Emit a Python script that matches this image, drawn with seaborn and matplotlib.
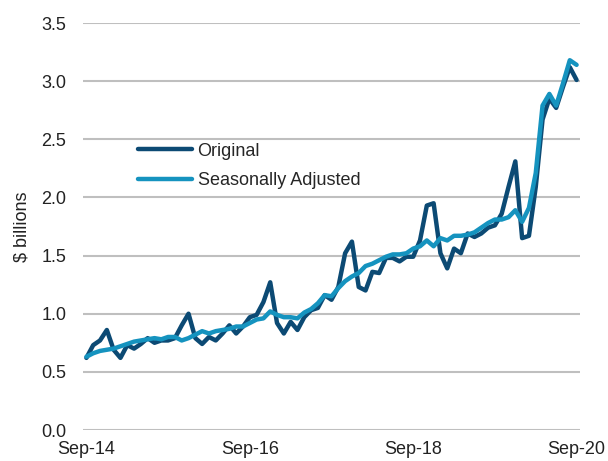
import numpy as np
import pandas as pd
import matplotlib
matplotlib.use("Agg")
import matplotlib.pyplot as plt
import seaborn as sns

# monthly values, Sep-14 .. Sep-20 ($ billions)
original = [0.62, 0.73, 0.77, 0.86, 0.69, 0.62, 0.73, 0.70, 0.74, 0.79,
            0.75, 0.77, 0.77, 0.79, 0.90, 1.00, 0.79, 0.74, 0.80, 0.77,
            0.83, 0.90, 0.83, 0.89, 0.97, 0.99, 1.10, 1.27, 0.92, 0.83,
            0.93, 0.86, 0.97, 1.03, 1.05, 1.16, 1.12, 1.23, 1.52, 1.62,
            1.23, 1.20, 1.36, 1.35, 1.48, 1.48, 1.45, 1.49, 1.49, 1.63,
            1.93, 1.95, 1.52, 1.39, 1.56, 1.52, 1.69, 1.66, 1.69, 1.74,
            1.76, 1.86, 2.09, 2.31, 1.65, 1.67, 2.09, 2.67, 2.85, 2.77,
            2.95, 3.12, 3.01]
seasonally_adjusted = [0.63, 0.66, 0.68, 0.69, 0.70, 0.72, 0.74, 0.76, 0.77, 0.78,
                       0.79, 0.78, 0.80, 0.80, 0.77, 0.79, 0.82, 0.85, 0.83, 0.85,
                       0.86, 0.87, 0.89, 0.89, 0.92, 0.95, 0.96, 1.02, 0.99, 0.97,
                       0.97, 0.96, 1.01, 1.04, 1.09, 1.16, 1.15, 1.22, 1.28, 1.32,
                       1.35, 1.41, 1.43, 1.46, 1.49, 1.51, 1.51, 1.52, 1.56, 1.58,
                       1.63, 1.58, 1.65, 1.63, 1.67, 1.67, 1.68, 1.70, 1.74, 1.78,
                       1.81, 1.81, 1.83, 1.89, 1.79, 1.91, 2.21, 2.79, 2.89, 2.79,
                       2.98, 3.18, 3.14]
tick_labels = ["Sep-14", "Sep-16", "Sep-18", "Sep-20"]
tick_pos = [0, 24, 48, 72]
y_ticks = [0.0, 0.5, 1.0, 1.5, 2.0, 2.5, 3.0, 3.5]

months = np.arange(len(original))
df = pd.DataFrame({
    "month": np.concatenate([months, months]),
    "value": original + seasonally_adjusted,
    "series": ["Original"] * len(original) + ["Seasonally Adjusted"] * len(seasonally_adjusted),
})

sns.set_style("white")
plt.rcParams["font.family"] = ["Liberation Sans", "DejaVu Sans"]

fig = plt.figure(figsize=(6.08, 4.61), dpi=100)
ax = fig.add_axes([83 / 608, 1 - 430 / 461, 497 / 608, 407 / 461])

palette = {"Original": "#0C4A74", "Seasonally Adjusted": "#1593BF"}
sns.lineplot(data=df, x="month", y="value", hue="series", palette=palette,
             linewidth=3.2, ax=ax)

ax.set_xlim(-0.5, 72.5)
ax.set_ylim(0, 3.5)
ax.set_yticks(y_ticks)
ax.set_yticklabels([f"{v:.1f}" for v in y_ticks], fontsize=13, color="#222222")
ax.set_xticks(tick_pos)
ax.set_xticklabels(tick_labels, fontsize=13, color="#222222")
ax.tick_params(axis="both", length=0)
ax.tick_params(axis="x", pad=8)
ax.tick_params(axis="y", pad=12)
ax.grid(axis="y", color="#BFBFBF", linewidth=1.5)
ax.set_axisbelow(True)
for s in ax.spines.values():
    s.set_visible(False)
ax.set_xlabel("")
ax.set_ylabel("$ billions", fontsize=13, color="#222222", labelpad=8)

ax.legend(title=None, frameon=False, fontsize=13, loc="center left",
          bbox_to_anchor=(138 / 608, 1 - 166 / 461), bbox_transform=fig.transFigure,
          borderpad=0, borderaxespad=0, handlelength=3.0, handletextpad=0.3,
          labelspacing=0.7)

fig.savefig("out.png", dpi=100)
